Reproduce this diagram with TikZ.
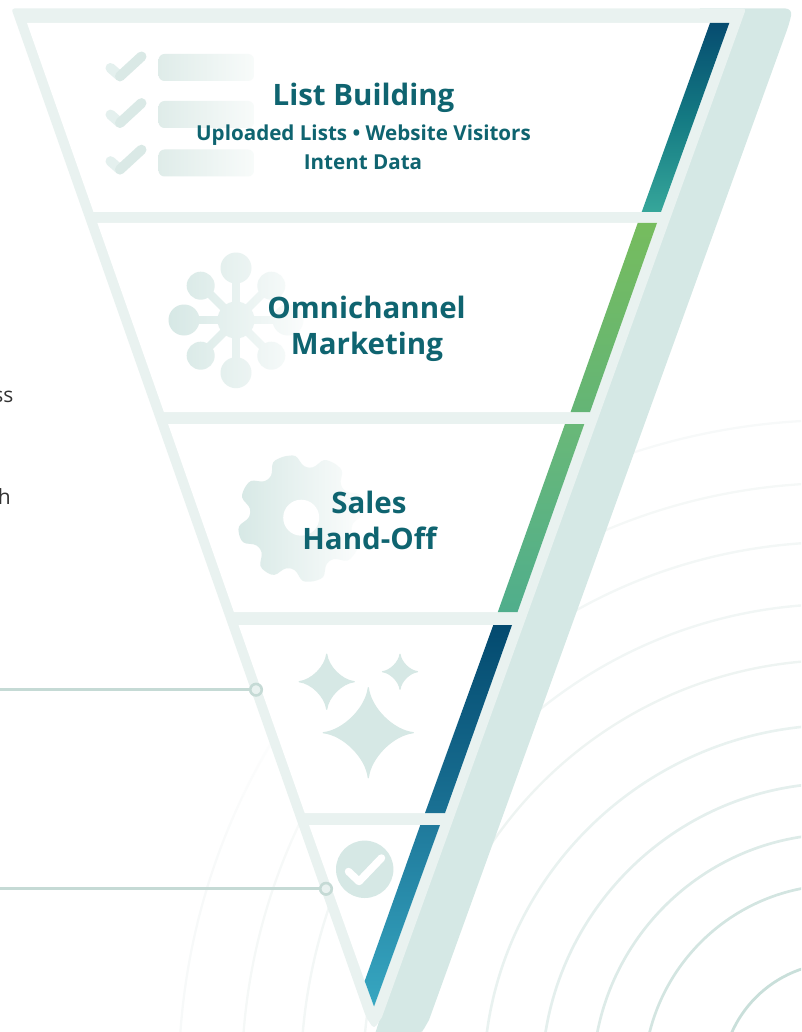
\documentclass[tikz,border=0pt]{standalone}
\usepackage{fontspec}
\setmainfont{Open Sans}
\usetikzlibrary{fadings}
\definecolor{framec}{HTML}{E9F2F0}
\definecolor{backc}{HTML}{D5E8E5}
\definecolor{titlec}{HTML}{0F6470}
\definecolor{wirec}{HTML}{C5DAD5}
\definecolor{iconc}{HTML}{D6E8E5}
\definecolor{barc}{HTML}{DFECE9}
\definecolor{barend}{HTML}{F8FBFA}
\definecolor{chka}{HTML}{E4F0EE}
\definecolor{chkb}{HTML}{DAE9E6}
\definecolor{sa}{HTML}{064C70}\definecolor{sb}{HTML}{147A83}\definecolor{sc}{HTML}{36A69A}
\definecolor{sd}{HTML}{76BC5E}\definecolor{se}{HTML}{64B576}
\definecolor{sf}{HTML}{69B878}\definecolor{sg}{HTML}{50AE8C}
\definecolor{sh}{HTML}{034A6F}\definecolor{si}{HTML}{1A7194}
\definecolor{sj}{HTML}{1F7A9C}\definecolor{sk}{HTML}{37A7C1}
\tikzfading[name=toright, left color=transparent!100, right color=transparent!0]
\tikzfading[name=torightsoft, left color=transparent!100, right color=transparent!10]
\tikzfading[name=toup, bottom color=transparent!100, top color=transparent!0]
\tikzset{
  arcline/.style={line width=#1, fill=none},
  cellbox/.style={fill=white, draw=none},
  titletext/.style={text=titlec, align=center, font=\bfseries\fontsize{29.5}{36}\selectfont, inner sep=0pt, anchor=base},
  subtext/.style={text=titlec, align=center, font=\bfseries\fontsize{20.6}{29}\selectfont, inner sep=0pt, anchor=base},
  sidetext/.style={text=black!80, font=\fontsize{21}{25}\selectfont, inner sep=0pt, anchor=base east},
  listbar/.style={left color=barc, right color=barend, rounded corners=6pt, draw=none},
  checkstroke/.style={draw=#1, line width=10pt, line cap=round},
  wire/.style={draw=wirec, line width=3pt},
  dot/.style={circle, draw=wirec, fill=framec, line width=2.6pt, minimum size=11.5pt, inner sep=0pt},
  hub/.style={fill=iconc, draw=none},
  spoke/.style={draw=iconc, line width=8.2pt},
  star/.style={fill=iconc, draw=iconc, line width=1.2pt, line join=round}
}
\newcommand{\sparkle}[3]{% cx cy h
  \path[star] (#1,#2-#3)
    .. controls (#1+0.05*#3,#2-0.55*#3) and (#1+0.55*#3,#2-0.05*#3) .. (#1+#3,#2)
    .. controls (#1+0.55*#3,#2+0.05*#3) and (#1+0.05*#3,#2+0.55*#3) .. (#1,#2+#3)
    .. controls (#1-0.05*#3,#2+0.55*#3) and (#1-0.55*#3,#2+0.05*#3) .. (#1-#3,#2)
    .. controls (#1-0.55*#3,#2-0.05*#3) and (#1-0.05*#3,#2-0.55*#3) .. (#1,#2-#3) -- cycle;
}
\begin{document}
\begin{tikzpicture}[x=1pt,y=-1pt]
\useasboundingbox (0,0) rectangle (801,1032);
% background arcs
\begin{scope}
\clip (0,0) rectangle (801,1032);
\foreach \r/\c/\w in {117/C9DFDA/2.8,195/D3E5E1/2.7,246/DDEBE8/2.7,297/E4EFED/2.7,355/E9F2F0/2.6,420/EEF4F2/2.4,476/F1F6F5/2.4,538/F3F7F6/2.4,597/F5F8F7/2.3,660/F7F9F9/2.3}{
  \definecolor{arcc}{HTML}{\c}
  \draw[arcline=\w pt, draw=arcc] (838.7,1080) circle[radius=\r pt];
}
\fill[white, path fading=toup] (140,690) rectangle (345,900);
\fill[white] (0,0) rectangle (345,690);
\end{scope}
% back slab
\fill[backc] (700,8.5) [rounded corners=7pt] -- (792.5,8.5) -- (789.5,23)
  [sharp corners] -- (429,1020) [rounded corners=6pt] -- (421,1034) [sharp corners] -- (375,1034) -- cycle;
% frame
\fill[framec] (11.4,8.5) [rounded corners=3pt] -- (746,8.5) [rounded corners=5pt] -- (743,17)
  [sharp corners] -- (382,1017) [rounded corners=4pt] -- (374,1029) -- (366,1017) [sharp corners] -- (14,16) [rounded corners=3pt] -- cycle;
% cells
\fill[cellbox] (27,23) -- (729.3,23) -- (661,212) -- (93.5,212) -- cycle;
\fill[cellbox] (97.4,223) -- (657.0,223) -- (588.6,412) -- (163.9,412) -- cycle;
\fill[cellbox] (168.1,424) -- (584.3,424) -- (516,612) -- (233.9,612) -- cycle;
\fill[cellbox] (238.5,625) -- (511.5,625) -- (443.6,813) -- (304.7,813) -- cycle;
\fill[cellbox] (309,825) -- (439.2,825) -- (373.8,1006.5) -- cycle;
% coloured strips
\shade[top color=sa, bottom color=sc, middle color=sb] (710,23) -- (729.3,23) -- (661,212) -- (641.7,212) -- cycle;
\shade[top color=sd, bottom color=se] (637.7,223) -- (657,223) -- (590,412) -- (570.6,412) -- cycle;
\shade[top color=sf, bottom color=sg] (565,424) -- (584.3,424) -- (517.5,612) -- (497.8,612) -- cycle;
\shade[top color=sh, bottom color=si] (493.3,625) -- (512,625) -- (445,813) -- (425,813) -- cycle;
\shade[top color=sj, bottom color=sk] (420.3,825) -- (440,825) -- (374,1006.5) -- (364.7,981) -- cycle;
% list icon
\foreach \dy in {0,46.6,93.2}{
  \draw[checkstroke=chka] (110.5,68+\dy) -- (120,76.3+\dy);
  \draw[checkstroke=chkb] (120,76.3+\dy) -- (141.5,56.5+\dy);
}
\shade[listbar] (158.5,54) rectangle (254,81);
\shade[listbar] (158.5,101) rectangle (254,128);
\shade[listbar] (158.5,149.5) rectangle (254,176.5);
% network icon
\foreach \a in {0,45,...,315}{
  \draw[spoke] (236,320) -- ++(\a:50);
}
\fill[hub] (236,320) circle[radius=18.5pt];
\foreach \px/\py/\rr in {236/268/15.5,184/320/15.5,288/320/15.5,236/372.7/15.5,200.7/285.7/14,271.3/285.7/14,200.7/355.7/14,271.3/355.7/14}{
  \fill[hub] (\px,\py) circle[radius=\rr pt];
}
\fill[white, path fading=torightsoft] (165,248) rectangle (306,392);
% gear icon
\begin{scope}[shift={(301.2,518.3)}]
\fill[hub, rounded corners=3.5pt] (-13:63.5)
  \foreach \a/\b in {36/59,82/106,130/152,174/195,216/237,258/281,304/327,350/13}{
    -- (-\a+13:63.5) -- (-\a+9:56.5) -- (-\a+5:51.5) -- (-\a-5:51.5) -- (-\a-9:56.5) -- (-\a-13:63.5) -- (-\b:64.5)
  } -- cycle;
\end{scope}
\fill[white] (301.2,517.7) circle[radius=18pt];
\fill[white, path fading=toright] (234,448) rectangle (372,590);
% sparkles
\sparkle{368.3}{732.7}{45}
\sparkle{326.7}{681.7}{27.5}
\sparkle{400}{671.7}{17.5}
% check badge
\fill[iconc] (364.7,869.3) circle[radius=28.7pt];
\draw[white, line width=7.5pt, line join=round, line cap=round] (348.5,871.5) -- (359,881.5) -- (381.5,858);
% connectors
\coordinate (wa) at (0,689.7);
\coordinate (wb) at (0,888.8);
\node[dot] (da) at (256,689.7) {};
\node[dot] (db) at (326,888.8) {};
\draw[wire] (wa) -- (da);
\draw[wire] (wb) -- (db);
% text
\node[titletext] (t1) at (363.5,106) {List Building};
\node[subtext] (s1) at (363.5,140.7) {Uploaded Lists • Website Visitors};
\node[subtext] (s2) at (363,169.7) {Intent Data};
\node[titletext] (t2) at (366.5,318.5) {Omnichannel};
\node[titletext] (t3) at (367,354.5) {Marketing};
\node[titletext] (t4) at (369,513.5) {Sales};
\node[titletext] (t5) at (369.5,549) {Hand-Off};
\node[sidetext] (e1) at (13.5,402) {ss};
\node[sidetext] (e2) at (11,504) {h};
\end{tikzpicture}
\end{document}
